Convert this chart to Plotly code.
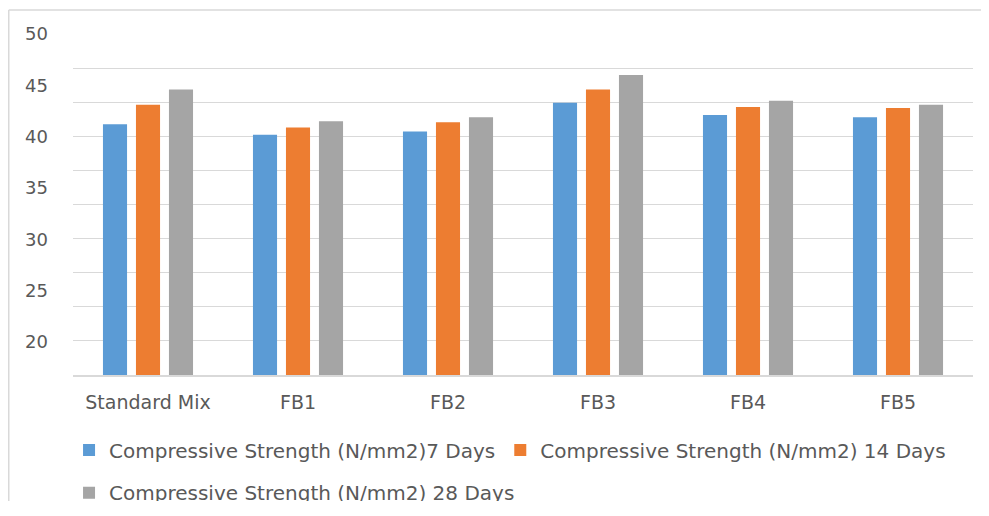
import plotly.graph_objects as go

categories = ["Standard Mix", "FB1", "FB2", "FB3", "FB4", "FB5"]
days7 = [41.2, 40.2, 40.5, 43.3, 42.1, 41.9]
days14 = [43.1, 40.9, 41.4, 44.6, 42.9, 42.8]
days28 = [44.6, 41.5, 41.9, 46.0, 43.5, 43.1]
series_names = [
    "Compressive Strength (N/mm2)7 Days",
    "Compressive Strength (N/mm2) 14 Days",
    "Compressive Strength (N/mm2) 28 Days",
]
colors = ["#5B9BD5", "#ED7D31", "#A5A5A5"]
y_ticks = [20, 25, 30, 35, 40, 45, 50]

Y_MIN, Y_MAX = 16.79, 50.0
FONT = "DejaVu Sans"
TXT = "#595959"

fig = go.Figure()
for i, (name, vals) in enumerate(zip(series_names, [days7, days14, days28])):
    fig.add_trace(go.Bar(
        x=categories, y=vals, name=name,
        marker=dict(color=colors[i], line=dict(width=0)),
        legend="legend" if i < 2 else "legend2",
    ))
fig.add_trace(go.Scatter(x=[], y=[], yaxis="y2", showlegend=False, hoverinfo="skip"))

fig.update_layout(
    width=981, height=493,
    margin=dict(l=65, r=16, t=26, b=126, autoexpand=False),
    paper_bgcolor="white", plot_bgcolor="white",
    barmode="group", bargap=0.34, bargroupgap=0.27,
    font=dict(family=FONT, color=TXT),
    xaxis=dict(
        showgrid=False, showline=True, linecolor="#D9D9D9", linewidth=1.5,
        tickfont=dict(size=19, color=TXT), ticks="", ticklabelstandoff=9,
        zeroline=False,
    ),
    yaxis=dict(
        range=[Y_MIN, Y_MAX], tick0=Y_MAX, dtick=(Y_MAX - Y_MIN) / 10,
        showgrid=True, gridcolor="#D9D9D9", gridwidth=1.3,
        showticklabels=False, zeroline=False, ticks="",
    ),
    yaxis2=dict(
        overlaying="y", side="left", anchor="x", range=[Y_MIN, Y_MAX],
        tickvals=y_ticks, showgrid=False, zeroline=False, ticks="",
        tickfont=dict(size=18, color=TXT), ticklabelstandoff=24,
    ),
    legend=dict(
        orientation="h", x=-0.0044, xanchor="left", y=-0.22, yanchor="middle",
        font=dict(size=20, color=TXT, family=FONT), bgcolor="rgba(0,0,0,0)",
        itemclick=False,
    ),
    legend2=dict(
        orientation="h", x=-0.0044, xanchor="left", y=-0.345, yanchor="middle",
        font=dict(size=20, color=TXT, family=FONT), bgcolor="rgba(0,0,0,0)",
    ),
    shapes=[
        dict(type="line", xref="paper", yref="paper", x0=-0.0714, x1=1.02,
             y0=1.0704, y1=1.0704, line=dict(color="#D9D9D9", width=1.5)),
        dict(type="line", xref="paper", yref="paper", x0=-0.0714, x1=-0.0714,
             y0=1.0704, y1=-0.5, line=dict(color="#D9D9D9", width=1.5)),
    ],
    annotations=[
        dict(text="<b>International Journal</b>", xref="paper", yref="paper",
             x=0.435, y=1.0616, xanchor="center", yanchor="bottom", showarrow=False,
             font=dict(family="Liberation Sans", size=24, color="#F8DDD6")),
    ],
)

fig.write_html("out.html")
